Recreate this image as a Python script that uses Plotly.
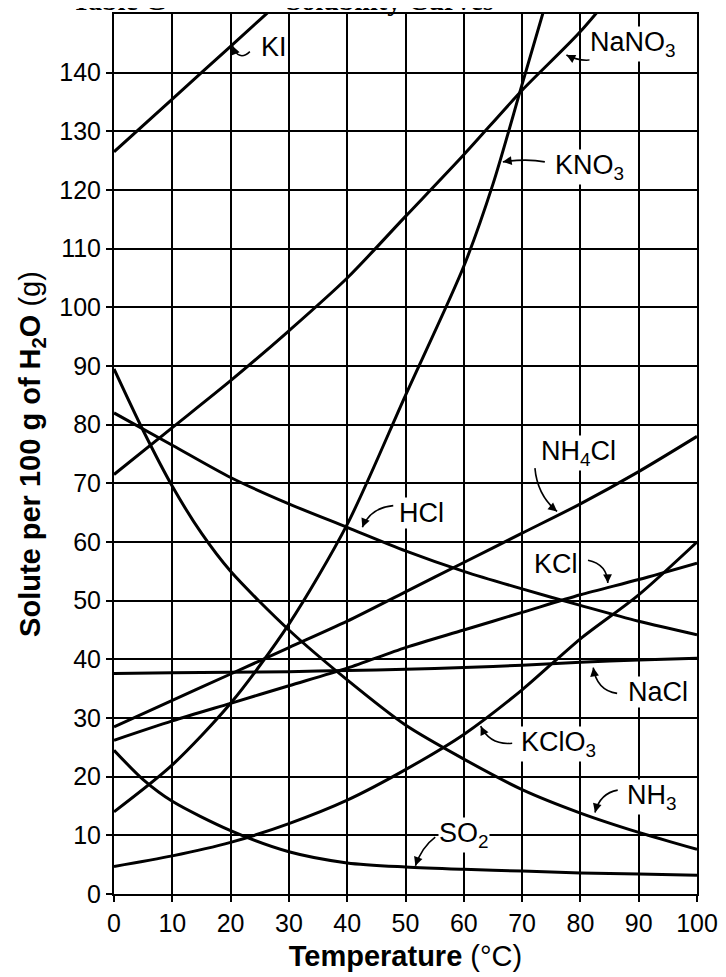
import math
import plotly.graph_objects as go

# Temperatures (deg C) and solubility (g solute per 100 g H2O)
t_full = [0, 10, 20, 30, 40, 50, 60, 70, 80, 90, 100]

t_ki = [0, 10, 20, 30, 40]
ki = [126.5, 135.5, 144.5, 153.5, 162.5]

t_nano3 = [0, 10, 20, 30, 40, 50, 60, 70, 80, 90]
nano3 = [71.5, 79.5, 87.5, 96, 105, 115.5, 126, 137, 147, 159]

t_kno3 = [0, 10, 20, 30, 40, 50, 60, 65, 70, 75]
kno3 = [14, 22, 32.5, 46, 63, 85, 107, 121, 138, 155]

nh4cl = [28.5, 33, 37.5, 42, 46.5, 51.5, 56.5, 61.5, 66.5, 72, 78]
hcl = [82, 76.5, 71, 66.5, 62.5, 58.5, 55, 52, 49.2, 46.5, 44.2]
kcl = [26.2, 29.5, 32.5, 35.5, 38.5, 42, 45, 48, 51, 53.6, 56.4]
nacl = [37.6, 37.7, 37.8, 37.9, 38.1, 38.3, 38.6, 39, 39.5, 39.9, 40.2]
kclo3 = [4.7, 6.5, 8.8, 12, 16, 21.2, 27.2, 34.8, 43.5, 51, 60]

t_nh3 = [0, 5, 10, 15, 20, 30, 40, 50, 60, 70, 80, 90, 100]
nh3 = [89.5, 79, 69.5, 61.5, 55, 45, 36.5, 28.8, 23, 17.8, 13.8, 10.5, 7.6]

t_so2 = [0, 5, 10, 20, 30, 40, 50, 60, 70, 80, 90, 100]
so2 = [24.5, 19.5, 15.8, 10.8, 7.2, 5.3, 4.6, 4.2, 3.9, 3.6, 3.4, 3.2]

x_ticks = [0, 10, 20, 30, 40, 50, 60, 70, 80, 90, 100]
y_ticks = [0, 10, 20, 30, 40, 50, 60, 70, 80, 90, 100, 110, 120, 130, 140]

series = [
    ("KI", t_ki, ki),
    ("NaNO3", t_nano3, nano3),
    ("KNO3", t_kno3, kno3),
    ("NH4Cl", t_full, nh4cl),
    ("HCl", t_full, hcl),
    ("KCl", t_full, kcl),
    ("NaCl", t_full, nacl),
    ("KClO3", t_full, kclo3),
    ("NH3", t_nh3, nh3),
    ("SO2", t_so2, so2),
]

# label text, text centre, curved pointer: tail, control point, tip (data units)
labels = [
    ("KI", (27.4, 144.4), (23.3, 143.6), (21.4, 141.8), (20.3, 144.6)),
    ("NaNO<sub>3</sub>", (89.0, 144.9), (83.7, 142.7), (80.8, 141.4), (77.6, 143.0)),
    ("KNO<sub>3</sub>", (81.6, 124.0), (73.9, 124.8), (70.8, 125.4), (66.7, 124.8)),
    ("NH<sub>4</sub>Cl", (79.6, 75.2), (72.2, 72.6), (72.6, 68.0), (76.0, 65.2)),
    ("HCl", (52.8, 65.0), (47.9, 66.2), (43.9, 65.8), (42.6, 62.5)),
    ("KCl", (75.8, 56.2), (81.3, 56.9), (84.6, 56.2), (84.7, 53.0)),
    ("NaCl", (93.3, 34.5), (86.3, 34.2), (82.8, 34.7), (82.2, 38.6)),
    ("KClO<sub>3</sub>", (76.2, 25.5), (68.3, 25.7), (64.5, 25.3), (62.9, 28.6)),
    ("NH<sub>3</sub>", (92.3, 16.5), (86.4, 17.7), (83.4, 17.2), (82.5, 13.9)),
    ("SO<sub>2</sub>", (60.0, 10.0), (55.1, 9.7), (52.8, 8.0), (51.7, 4.8)),
]

# Page offset compensation (browser body margin of 8 px)
W, H = 718, 969
M = dict(l=106, r=29, t=4, b=83)
px_per_x = (W - M["l"] - M["r"]) / 100.0
px_per_y = (H - M["t"] - M["b"]) / 150.0

fig = go.Figure()
for name, xs, ys in series:
    fig.add_trace(go.Scatter(
        x=xs, y=ys, mode="lines", name=name,
        line=dict(color="black", width=3, shape="spline", smoothing=0.8),
        hoverinfo="name+x+y",
    ))

label_font = dict(family="Liberation Sans, Arial, sans-serif", size=27, color="black")
for text, (tx, ty), tail, ctrl, tip in labels:
    fig.add_annotation(
        x=tx, y=ty, xref="x", yref="y", text=text, showarrow=False,
        font=label_font, bgcolor="white", borderpad=0,
        xanchor="center", yanchor="middle",
    )
    fig.add_shape(
        type="path", xref="x", yref="y",
        path=f"M {tail[0]},{tail[1]} Q {ctrl[0]},{ctrl[1]} {tip[0]},{tip[1]}",
        line=dict(color="black", width=1.6),
    )
    dxp = (tip[0] - ctrl[0]) * px_per_x
    dyp = -(tip[1] - ctrl[1]) * px_per_y
    n = math.hypot(dxp, dyp) or 1.0
    fig.add_annotation(
        x=tip[0], y=tip[1], xref="x", yref="y", text="",
        showarrow=True, arrowhead=2, arrowsize=1.1, arrowwidth=1.6, arrowcolor="black",
        ax=-dxp / n * 7, ay=-dyp / n * 7, standoff=0,
    )

# Partially cut-off title at top of page
title_font = dict(family="Liberation Serif, Times New Roman, serif", size=28, color="black")
fig.add_annotation(x=0.01, y=0.9952, xref="paper", yref="paper", text="<b>Table G</b>",
                   showarrow=False, xanchor="center", yanchor="bottom", font=title_font)
fig.add_annotation(x=0.473, y=0.9952, xref="paper", yref="paper", text="<b>Solubility Curves</b>",
                   showarrow=False, xanchor="center", yanchor="bottom", font=title_font)

axis_font = dict(family="Liberation Sans, Arial, sans-serif", size=25, color="black")

fig.update_layout(
    width=W, height=H,
    margin=M,
    paper_bgcolor="white", plot_bgcolor="white",
    showlegend=False,
    font=dict(family="Liberation Sans, Arial, sans-serif", color="black"),
    xaxis=dict(
        range=[0, 100], tickvals=x_ticks, ticktext=[str(v) for v in x_ticks],
        showgrid=True, gridcolor="black", gridwidth=2,
        showline=True, linecolor="black", linewidth=2, mirror=True,
        ticks="outside", ticklen=6, tickwidth=2, tickcolor="black",
        zeroline=False, tickfont=axis_font,
        title=dict(text="<b>Temperature</b> (°C)", standoff=10,
                   font=dict(family="Liberation Sans, Arial, sans-serif", size=29, color="black")),
    ),
    yaxis=dict(
        range=[0, 150], tickvals=y_ticks, ticktext=[str(v) for v in y_ticks],
        showgrid=True, gridcolor="black", gridwidth=2,
        showline=True, linecolor="black", linewidth=2, mirror=True,
        ticks="outside", ticklen=6, tickwidth=2, tickcolor="black",
        zeroline=False, tickfont=axis_font,
        title=dict(text="<b>Solute per 100 g of H<sub>2</sub>O</b> (g)", standoff=10,
                   font=dict(family="Liberation Sans, Arial, sans-serif", size=29, color="black")),
    ),
)

fig.write_html("out.html")
